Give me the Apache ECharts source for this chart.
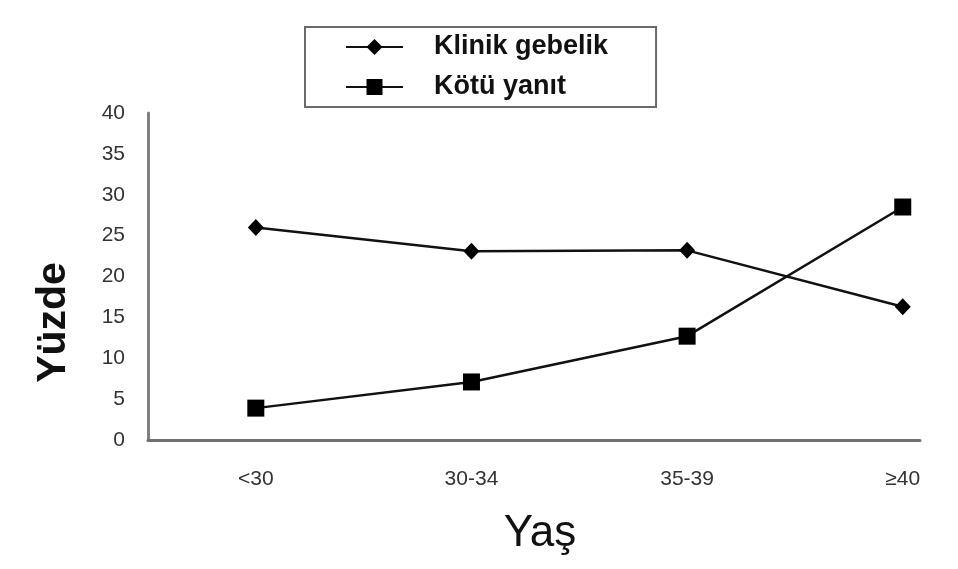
<!DOCTYPE html>
<html>
<head>
<meta charset="utf-8">
<script src="https://cdn.jsdelivr.net/npm/echarts@6/dist/echarts.min.js"></script>
<style>
  html, body { margin: 0; padding: 0; background: #ffffff; }
  #chart { width: 958px; height: 569px; }
</style>
</head>
<body>
<div id="chart"></div>
<script>
// Age groups and percentages
const ageGroups = ['<30', '30-34', '35-39', '≥40'];
const klinikGebelik = [26.0, 23.1, 23.2, 16.3];
const kotuYanit = [3.9, 7.1, 12.7, 28.5];
const yTicks = { min: 0, max: 40, interval: 5 };

// Group positions on the horizontal axis (one slot per age group)
const groupIndex = ageGroups.map((_, i) => i);
const toPairs = (values) => values.map((v, i) => [groupIndex[i], v]);

const FONT = 'Liberation Sans, Arial, sans-serif';
const chart = echarts.init(document.getElementById('chart'), null, { renderer: 'canvas' });

chart.setOption({
  backgroundColor: '#ffffff',
  animation: false,
  legend: {
    orient: 'vertical',
    left: 305,
    top: 27,
    padding: [5, 48, 5, 40],
    borderColor: '#6a6a6a',
    borderWidth: 2,
    itemWidth: 57,
    itemHeight: 20,
    itemGap: 10,
    textStyle: {
      fontFamily: FONT,
      fontSize: 27,
      fontWeight: 'bold',
      color: '#111',
      lineHeight: 30,
      padding: [0, 0, 0, 26]
    },
    data: ['Klinik gebelik', 'Kötü yanıt']
  },
  grid: { left: 148, right: 38, top: 113, bottom: 129 },
  xAxis: {
    type: 'value',
    min: -0.5,
    max: 3.08,
    axisLine: { show: true, onZero: false, lineStyle: { color: '#707070', width: 3 } },
    axisTick: { show: false },
    splitLine: { show: false },
    axisLabel: {
      customValues: groupIndex,
      formatter: (v) => ageGroups[Math.round(v)] ?? '',
      margin: 29,
      fontFamily: FONT,
      fontSize: 21,
      color: '#333'
    },
    name: 'Yaş',
    nameLocation: 'middle',
    nameGap: 72,
    nameTextStyle: {
      fontFamily: FONT,
      fontSize: 44,
      color: '#111',
      padding: [0, 0, 0, 12]
    }
  },
  yAxis: {
    type: 'value',
    min: yTicks.min,
    max: yTicks.max,
    interval: yTicks.interval,
    axisLine: { show: true, onZero: false, lineStyle: { color: '#808080', width: 3 } },
    axisTick: { show: false },
    splitLine: { show: false },
    axisLabel: {
      margin: 23,
      fontFamily: FONT,
      fontSize: 21,
      color: '#333'
    },
    name: 'Yüzde',
    nameLocation: 'middle',
    nameRotate: 90,
    nameGap: 74,
    nameTextStyle: {
      fontFamily: FONT,
      fontSize: 41,
      fontWeight: 'bold',
      color: '#111',
      padding: [0, 92, 0, 0]
    }
  },
  series: [
    {
      name: 'Klinik gebelik',
      type: 'line',
      data: toPairs(klinikGebelik),
      symbol: 'diamond',
      symbolSize: [16, 17],
      lineStyle: { color: '#111', width: 2.5 },
      itemStyle: { color: '#000' }
    },
    {
      name: 'Kötü yanıt',
      type: 'line',
      data: toPairs(kotuYanit),
      symbol: 'rect',
      symbolSize: 17,
      lineStyle: { color: '#111', width: 2.5 },
      itemStyle: { color: '#000' }
    }
  ]
});
</script>
</body>
</html>
